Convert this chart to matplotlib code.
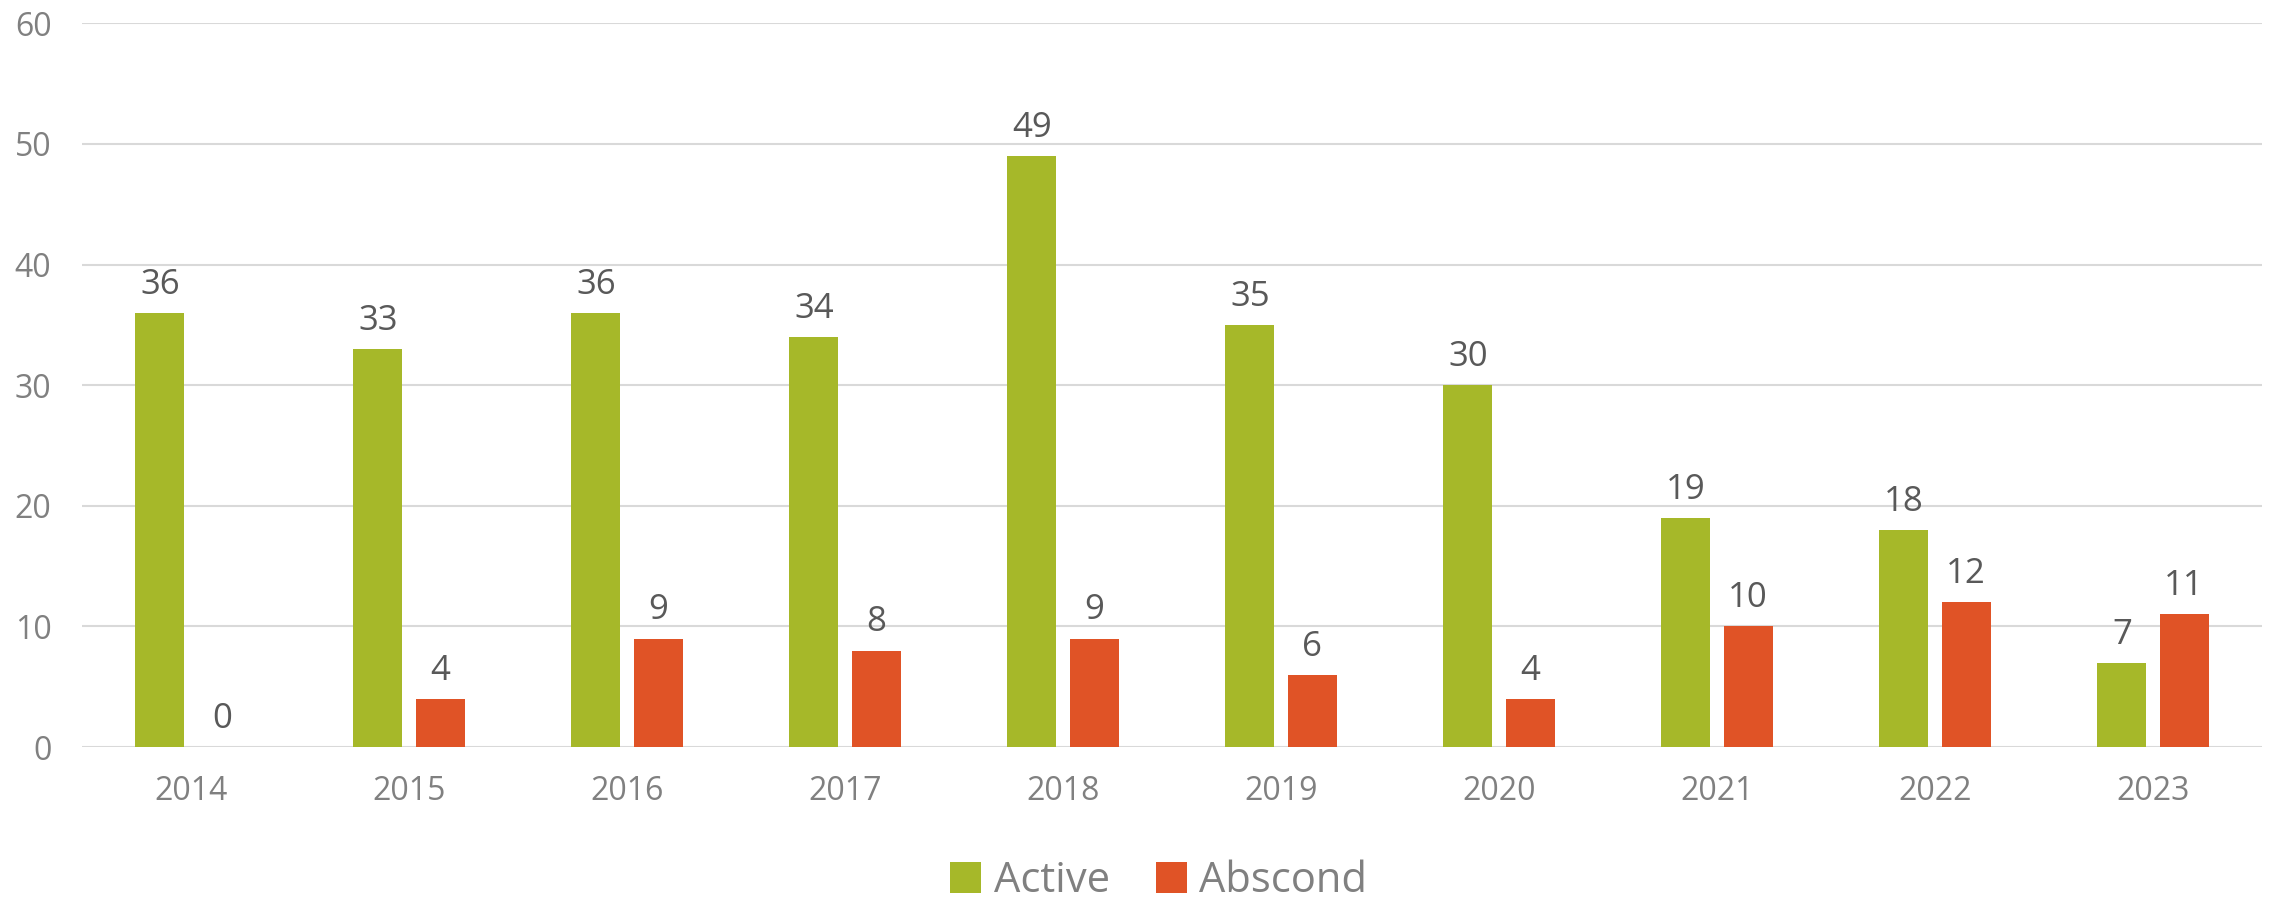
import numpy as np
import matplotlib.pyplot as plt

years = ['2014', '2015', '2016', '2017', '2018', '2019', '2020', '2021', '2022', '2023']
active = [36, 33, 36, 34, 49, 35, 30, 19, 18, 7]
abscond = [0, 4, 9, 8, 9, 6, 4, 10, 12, 11]

green = '#A6B829'
red = '#E05326'
tick_grey = '#808080'
label_grey = '#595959'

plt.rcParams['font.family'] = ['Open Sans', 'DejaVu Sans']

fig = plt.figure(figsize=(22.72, 8.99), dpi=100)
ax = fig.add_axes([0.0361, 0.169, 0.9595, 0.805])

x = np.arange(len(years))
w = 0.225
gap = 0.06
b1 = ax.bar(x - (w + gap) / 2, active, w, color=green, label='Active', zorder=3)
b2 = ax.bar(x + (w + gap) / 2, abscond, w, color=red, label='Abscond', zorder=3)

ax.bar_label(b1, padding=8, fontsize=25, color=label_grey)
ax.bar_label(b2, padding=8, fontsize=25, color=label_grey)

ax.set_xlim(-0.5, len(years) - 0.5)
ax.set_ylim(0, 60)
ax.set_yticks(range(0, 61, 10))
ax.set_xticks(x)
ax.set_xticklabels(years)
ax.tick_params(axis='both', length=0, labelsize=23, labelcolor=tick_grey)
ax.tick_params(axis='y', pad=22)
ax.tick_params(axis='x', pad=20)
ax.grid(axis='y', color='#d9d9d9', linewidth=1.5, zorder=0)
for s in ax.spines.values():
    s.set_visible(False)

fig.legend(handles=[b1, b2], loc='center', bbox_to_anchor=(0.51, 0.02), ncol=2,
           frameon=False, fontsize=30, labelcolor=tick_grey, handlelength=0.75,
           handleheight=0.75, handletextpad=0.3, columnspacing=1.1)

fig.savefig('out.png', dpi=100)
